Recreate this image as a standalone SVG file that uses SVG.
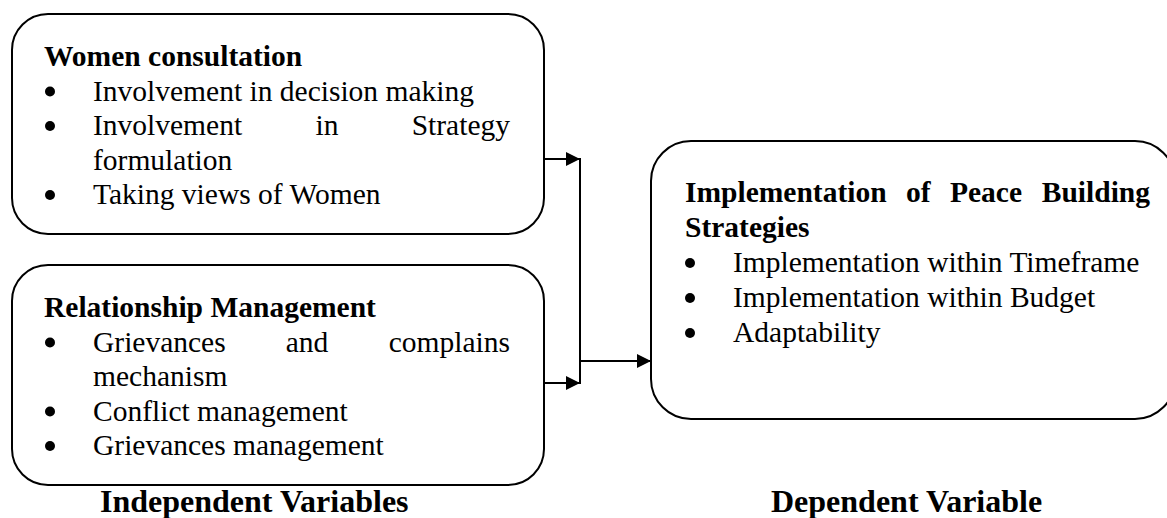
<svg xmlns="http://www.w3.org/2000/svg" width="1167" height="518" viewBox="0 0 1167 518">
<style>
.box{fill:#fff;stroke:#000;stroke-width:2}
.t{font-family:"Liberation Serif","Times New Roman",serif;font-size:29.5px;fill:#000}
.b{font-weight:bold}
.lbl{font-family:"Liberation Serif","Times New Roman",serif;font-size:32px;font-weight:bold;fill:#000}
.dot{fill:#000}
.ln{stroke:#000;stroke-width:2;fill:none}
</style>
<defs>
<marker id="ah" markerWidth="14" markerHeight="14" refX="14" refY="7" orient="auto" markerUnits="userSpaceOnUse">
<path d="M0,0 L14,7 L0,14 Z" fill="#000"/>
</marker>
</defs>
<rect width="1167" height="518" fill="#fff"/>
<g id="women-consultation">
<rect class="box" x="12" y="14" width="532" height="220" rx="36" ry="36"/>
<text class="t b" x="44" y="66">Women consultation</text>
<circle class="dot" cx="50" cy="91.5" r="5"/>
<text class="t" x="93" y="100.5">Involvement in decision making</text>
<circle class="dot" cx="50" cy="126" r="5"/>
<text class="t" x="93" y="135">Involvement</text>
<text class="t" x="327" y="135" text-anchor="middle">in</text>
<text class="t" x="510" y="135" text-anchor="end">Strategy</text>
<text class="t" x="93" y="169.5">formulation</text>
<circle class="dot" cx="50" cy="195" r="5"/>
<text class="t" x="93" y="204">Taking views of Women</text>
</g>
<g id="relationship-management">
<rect class="box" x="12" y="265" width="532" height="220" rx="36" ry="36"/>
<text class="t b" x="44" y="317">Relationship Management</text>
<circle class="dot" cx="50" cy="342.5" r="5"/>
<text class="t" x="93" y="351.5">Grievances</text>
<text class="t" x="307" y="351.5" text-anchor="middle">and</text>
<text class="t" x="510" y="351.5" text-anchor="end">complains</text>
<text class="t" x="93" y="386">mechanism</text>
<circle class="dot" cx="50" cy="411.5" r="5"/>
<text class="t" x="93" y="420.5">Conflict management</text>
<circle class="dot" cx="50" cy="446" r="5"/>
<text class="t" x="93" y="455">Grievances management</text>
</g>
<g id="implementation">
<rect class="box" x="651" y="141" width="524" height="278" rx="40" ry="40"/>
<text class="t b" x="685" y="202">Implementation</text>
<text class="t b" x="906" y="202">of</text>
<text class="t b" x="950" y="202">Peace</text>
<text class="t b" x="1150" y="202" text-anchor="end">Building</text>
<text class="t b" x="685" y="237">Strategies</text>
<circle class="dot" cx="690" cy="263" r="5"/>
<text class="t" x="733" y="272">Implementation within Timeframe</text>
<circle class="dot" cx="690" cy="298" r="5"/>
<text class="t" x="733" y="307">Implementation within Budget</text>
<circle class="dot" cx="690" cy="333" r="5"/>
<text class="t" x="733" y="342">Adaptability</text>
</g>
<g id="connectors">
<line class="ln" x1="544" y1="159" x2="580" y2="159" marker-end="url(#ah)"/>
<line class="ln" x1="544" y1="383" x2="580" y2="383" marker-end="url(#ah)"/>
<line class="ln" x1="580" y1="158" x2="580" y2="384"/>
<line class="ln" x1="580" y1="361" x2="651" y2="361" marker-end="url(#ah)"/>
</g>
<g id="labels">
<text class="lbl" x="100" y="512">Independent Variables</text>
<text class="lbl" x="771" y="512">Dependent Variable</text>
</g>
</svg>
